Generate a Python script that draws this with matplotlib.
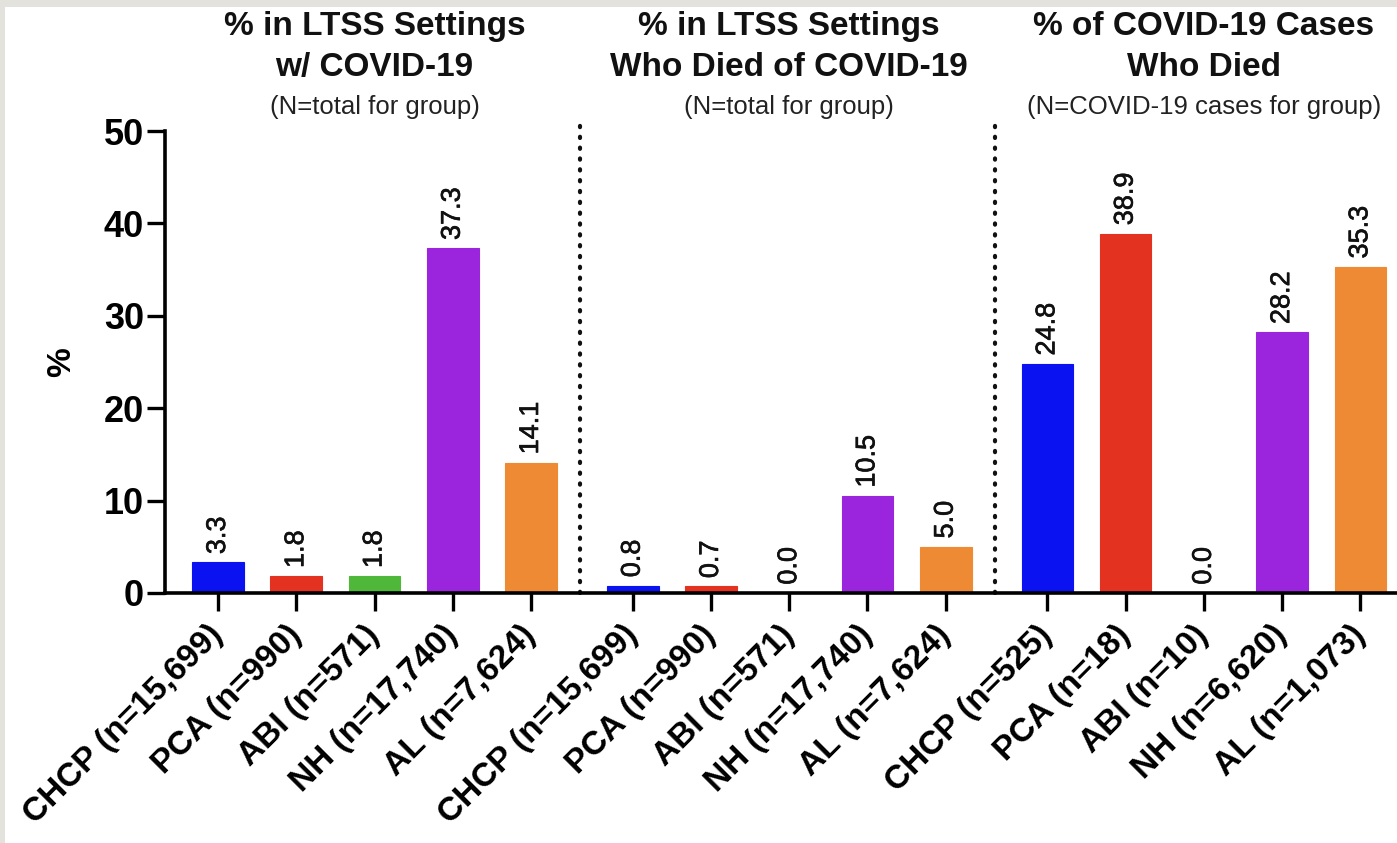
import matplotlib
matplotlib.use("Agg")
import matplotlib.pyplot as plt
import matplotlib.patheffects as pe
from matplotlib.patches import Rectangle

plt.rcParams['font.family'] = ['Liberation Sans', 'DejaVu Sans']

# --- data -------------------------------------------------------------
groups = ["CHCP", "PCA", "ABI", "NH", "AL"]
colors = ["#0b12f2", "#e3321f", "#4fb83a", "#9b25dc", "#ee8a33"]

cases_pct = [3.3, 1.8, 1.8, 37.3, 14.1]
deaths_pct = [0.8, 0.7, 0.0, 10.5, 5.0]
case_fatality_pct = [24.8, 38.9, 0.0, 28.2, 35.3]

labels_total = ["CHCP (n=15,699)", "PCA (n=990)", "ABI (n=571)",
                "NH (n=17,740)", "AL (n=7,624)"]
labels_cases = ["CHCP (n=525)", "PCA (n=18)", "ABI (n=10)",
                "NH (n=6,620)", "AL (n=1,073)"]

panel_titles = ["% in LTSS Settings\nw/ COVID-19",
                "% in LTSS Settings\nWho Died of COVID-19",
                "% of COVID-19 Cases\nWho Died"]
panel_notes = ["(N=total for group)", "(N=total for group)",
               "(N=COVID-19 cases for group)"]

panels = [cases_pct, deaths_pct, case_fatality_pct]
panel_labels = [labels_total, labels_total, labels_cases]

# --- layout -----------------------------------------------------------
fig = plt.figure(figsize=(13.97, 8.43), dpi=100)
fig.patch.set_facecolor("white")

ax = fig.add_axes([0.118, 0.2966, 0.895, 0.548])

gap = 1.3
bar_w = 0.66
semi_bold = [pe.withStroke(linewidth=0.45, foreground="#111111")]
xticks, xlabels = [], []
for p, (vals, labs) in enumerate(zip(panels, panel_labels)):
    start = p * (len(groups) - 1 + gap)
    xs = [start + i for i in range(len(vals))]
    ax.bar(xs, vals, width=bar_w, color=colors, edgecolor=colors,
           linewidth=0.8, zorder=2)
    for x, v in zip(xs, vals):
        ax.text(x, v + 0.9, f"{v:.1f}", rotation=90, ha="center",
                va="bottom", fontsize=19.5, color="#111111", zorder=3,
                path_effects=semi_bold)
    xticks += xs
    xlabels += labs
    centre = (xs[0] + xs[-1]) / 2
    ax.text(centre, 1.104, panel_titles[p], transform=ax.get_xaxis_transform(),
            ha="center", va="bottom", fontsize=24, fontweight="bold",
            linespacing=1.42, color="#111111")
    ax.text(centre, 1.027, panel_notes[p], transform=ax.get_xaxis_transform(),
            ha="center", va="bottom", fontsize=18.5, color="#222222")
    if p > 0:
        sep = start - gap / 2 - 0.02
        ax.plot([sep, sep], [0, 50.6], linestyle=(0, (0.3, 2.3)),
                color="#111111", linewidth=3.0, dash_capstyle="round",
                clip_on=False, zorder=1)

ax.set_xlim(-0.68, 15.3)
ax.set_ylim(0, 50)
ax.set_yticks([0, 10, 20, 30, 40, 50])
ax.set_xticks(xticks)
ax.set_xticklabels(xlabels, rotation=45, ha="right", va="center",
                   rotation_mode="anchor", fontsize=24, fontweight="bold")
for lab in ax.get_yticklabels():
    lab.set_fontweight("bold")
ax.tick_params(axis="y", labelsize=26, width=2.4, length=13, pad=2)
ax.tick_params(axis="x", width=2.4, length=13, pad=14)

for s in ["top", "right"]:
    ax.spines[s].set_visible(False)
for s in ["left", "bottom"]:
    ax.spines[s].set_linewidth(2.6)
ax.set_ylabel("%", fontsize=24, fontweight="bold", labelpad=19)

# light grey frame along the top and left edges
fig.patches.append(Rectangle((0, 1 - 7 / 843), 1, 7 / 843, transform=fig.transFigure,
                             facecolor="#e4e2dc", edgecolor="none"))
fig.patches.append(Rectangle((0, 0), 5 / 1397, 1, transform=fig.transFigure,
                             facecolor="#e4e2dc", edgecolor="none"))

fig.savefig("out.png", dpi=100)
